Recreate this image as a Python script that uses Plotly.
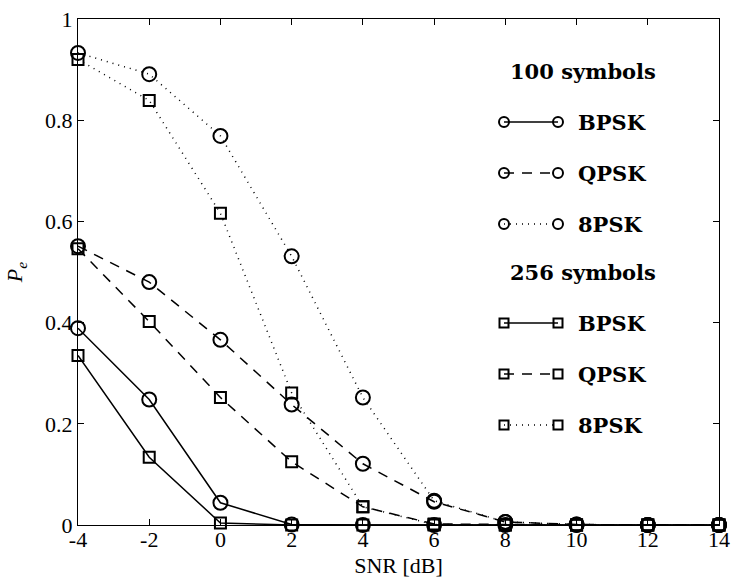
import plotly.graph_objects as go

snr = [-4, -2, 0, 2, 4, 6, 8, 10, 12, 14]

# 100 symbols
bpsk_100 = [0.389, 0.248, 0.044, 0.001, 0.0, 0.0, 0.0, 0.0, 0.0, 0.0]
qpsk_100 = [0.551, 0.480, 0.366, 0.238, 0.121, 0.046, 0.006, 0.001, 0.0, 0.0]
psk8_100 = [0.933, 0.891, 0.769, 0.531, 0.252, 0.048, 0.006, 0.001, 0.0, 0.0]

# 256 symbols
bpsk_256 = [0.335, 0.134, 0.004, 0.0, 0.0, 0.0, 0.0, 0.0, 0.0, 0.0]
qpsk_256 = [0.546, 0.402, 0.252, 0.125, 0.036, 0.002, 0.001, 0.0, 0.0, 0.0]
psk8_256 = [0.920, 0.839, 0.616, 0.261, 0.036, 0.001, 0.0, 0.0, 0.0, 0.0]

x_ticks = [-4, -2, 0, 2, 4, 6, 8, 10, 12, 14]
x_tick_labels = ["-4", "-2", "0", "2", "4", "6", "8", "10", "12", "14"]
y_ticks = [0, 0.2, 0.4, 0.6, 0.8, 1]
y_tick_labels = ["0", "0.2", "0.4", "0.6", "0.8", "1"]

modulations = ["BPSK", "QPSK", "8PSK"]
groups = ["100 symbols", "256 symbols"]

DASH = {"BPSK": "solid", "QPSK": "10px,8px", "8PSK": "1px,5px"}
SYMBOL = {"100 symbols": "circle-open", "256 symbols": "square-open"}
MSIZE = {"100 symbols": 14, "256 symbols": 11}
LEG_MSIZE = {"100 symbols": 10, "256 symbols": 9}

series = {
    ("100 symbols", "BPSK"): bpsk_100,
    ("100 symbols", "QPSK"): qpsk_100,
    ("100 symbols", "8PSK"): psk8_100,
    ("256 symbols", "BPSK"): bpsk_256,
    ("256 symbols", "QPSK"): qpsk_256,
    ("256 symbols", "8PSK"): psk8_256,
}

fig = go.Figure()
for (g, m), vals in series.items():
    fig.add_trace(go.Scatter(
        x=snr, y=vals, mode="lines+markers", name=f"{m} ({g})",
        line=dict(color="black", width=1.5, dash=DASH[m]),
        marker=dict(symbol=SYMBOL[g], size=MSIZE[g], color="black",
                    line=dict(width=2, color="black")),
        cliponaxis=False, showlegend=False,
    ))

# custom legend drawn on a hidden pixel-scaled overlay axis
L, R, T, B = 78, 12, 19, 53
W, H = 731, 578
header_y = {"100 symbols": 71, "256 symbols": 272}
row_gap = 51
x0, x1, xt, xh = 504, 558, 576, 583
annotations = []
for g in groups:
    annotations.append(dict(x=xh, y=header_y[g], xref="x2", yref="y2", text=f"<b>{g}</b>",
                            showarrow=False, xanchor="center", yanchor="middle",
                            font=dict(family="DejaVu Serif", size=21, color="black")))
    for i, m in enumerate(modulations):
        yy = header_y[g] + row_gap * (i + 1)
        fig.add_trace(go.Scatter(
            x=[x0, x1], y=[yy, yy], xaxis="x2", yaxis="y2", mode="lines+markers",
            line=dict(color="black", width=1.5, dash=DASH[m]),
            marker=dict(symbol=SYMBOL[g], size=LEG_MSIZE[g], color="black",
                        line=dict(width=2, color="black")),
            showlegend=False, hoverinfo="skip", cliponaxis=False,
        ))
        annotations.append(dict(x=xt, y=yy, xref="x2", yref="y2", text=f"<b>{m}</b>",
                                showarrow=False, xanchor="left", yanchor="middle",
                                font=dict(family="DejaVu Serif", size=21, color="black")))

fig.update_layout(
    width=W, height=H,
    margin=dict(l=L, r=R, t=T, b=B, autoexpand=False),
    paper_bgcolor="white", plot_bgcolor="white",
    font=dict(family="Liberation Serif", size=22, color="black"),
    showlegend=False,
    annotations=annotations,
    xaxis=dict(range=[-4, 14], tickvals=x_ticks, ticktext=x_tick_labels, ticks="inside",
               ticklen=6, automargin=False, ticklabelstandoff=-5,
               tickwidth=1, tickcolor="black", showline=True, linecolor="black",
               linewidth=1, mirror="allticks", showgrid=False, zeroline=False,
               tickfont=dict(family="Liberation Serif", size=22),
               title=dict(text="SNR [dB]", standoff=8,
                          font=dict(family="Liberation Serif", size=22))),
    yaxis=dict(range=[0, 1], tickvals=y_ticks, ticktext=y_tick_labels, ticks="inside",
               ticklen=6, automargin=False, tickwidth=1, tickcolor="black", showline=True,
               linecolor="black", linewidth=1, mirror="allticks", showgrid=False,
               zeroline=False, tickfont=dict(family="Liberation Serif", size=22),
               title=dict(text="<i>P</i><sub><i>e</i></sub>", standoff=16,
                          font=dict(family="Liberation Serif", size=22))),
    xaxis2=dict(overlaying="x", range=[L, W - R], visible=False, fixedrange=True),
    yaxis2=dict(overlaying="y", range=[H - B, T], visible=False, fixedrange=True),
)

fig.write_html("out.html", config={"displayModeBar": False},
               post_script="document.body.style.margin='0';document.body.style.overflow='hidden';")
